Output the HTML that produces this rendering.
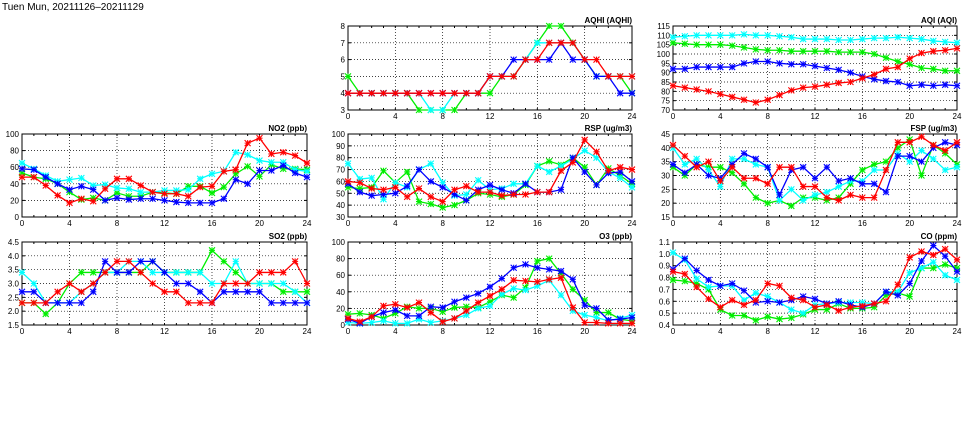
<!DOCTYPE html>
<html><head><meta charset="utf-8"><style>
body{margin:0;background:#fff;width:975px;height:447px;overflow:hidden}
svg{display:block}
text{font-family:"Liberation Sans",sans-serif;font-size:8px;fill:#000}
</style></head><body>
<svg id="chart" width="975" height="447" viewBox="0 0 975 447" xmlns="http://www.w3.org/2000/svg">
<text x="2" y="10" style="font-size:10px">Tuen Mun, 20211126–20211129</text>
</svg>
<script>
const hours=[0,1,2,3,4,5,6,7,8,9,10,11,12,13,14,15,16,17,18,19,20,21,22,23,24];
const xTicks=[0,4,8,12,16,20,24];
const seriesColors=["#00ee00","#00ffff","#0000ff","#ff0000"];
const seriesNames=["green","cyan","blue","red"];

const aqhiTicks=[3,4,5,6,7,8];
const aqhiGreen=[5,4,4,4,4,4,3,3,3,3,4,4,4,5,5,6,7,8,8,7,6,5,5,5,4];
const aqhiCyan=[4,4,4,4,4,4,4,3,3,4,4,4,5,5,5,6,7,7,7,7,6,5,5,5,5];
const aqhiBlue=[4,4,4,4,4,4,4,4,4,4,4,4,5,5,6,6,6,6,7,6,6,5,5,4,4];
const aqhiRed=[4,4,4,4,4,4,4,4,4,4,4,4,5,5,5,6,6,7,7,7,6,6,5,5,5];

const aqiTicks=[70,75,80,85,90,95,100,105,110,115];
const aqiCyan=[109,109.5,110,110,110,110,110.5,110,110,109.5,109,108,108,108,107.5,107.5,108,108.5,108.5,109,108.5,108,107,106.5,106];
const aqiGreen=[106,105.5,105,105,105,104.5,103.5,102.5,102,102,101.5,101.5,101.5,101.5,101,101,101,100,98,96,94.5,92.5,92,91,91];
const aqiBlue=[92,92,93,93,93,93,95,96,96,95,94.5,94.5,93.5,92.5,91.5,90,88,86.5,85.5,85,83,83.5,83,83.5,83];
const aqiRed=[83,82,81,80,78.5,77,75.5,74,75.5,78,80.5,82,82.5,83.5,84.5,85,87,89,92,93,97.5,100.5,101.5,102,103];

const no2Ticks=[0,20,40,60,80,100];
const no2Cyan=[65,58,50,43,45,47,38,39,35,34,30,30,32,32,33,46,52,55,78,75,68,66,66,57,55];
const no2Green=[53,48,46,40,30,21,23,20,29,25,25,30,29,28,37,37,29,36,52,61,49,63,58,58,57];
const no2Blue=[58,57,48,40,33,37,33,20,23,21,22,22,20,18,17,17,17,22,45,40,56,56,62,53,48];
const no2Red=[48,48,38,26,17,22,19,34,46,46,38,30,28,28,25,36,37,55,57,89,95,76,78,74,65];

const rspTicks=[30,40,50,60,70,80,90,100];
const rspCyan=[75,62,63,45,59,55,70,75,59,48,49,61,53,54,58,58,73,68,73,79,86,80,68,63,55];
const rspGreen=[55,54,55,69,59,68,43,41,38,40,44,50,49,47,49,57,73,77,74,80,72,57,71,65,58];
const rspBlue=[58,51,48,49,50,56,70,60,55,49,44,53,57,53,50,58,51,51,53,80,68,57,67,68,60];
const rspRed=[60,59,54,53,55,47,54,47,43,53,56,51,51,48,49,49,51,51,69,76,95,85,69,72,70];

const fspTicks=[15,20,25,30,35,40,45];
const fspCyan=[40,34,36,32,26,36,36,34,33,21,25,21,23,24,26,28,28,32,32,38,35,39,36,32,33];
const fspGreen=[33,30,34,33,33,31,27,22,20,21,19,22,22,21,22,27,32,34,35,40,43,30,41,38,34];
const fspBlue=[34,31,34,30,29,34,38,36,33,23,32,33,29,33,28,29,27,27,24,37,37,35,40,42,41];
const fspRed=[41,37,33,35,28,33,29,29,27,33,33,26,26,22,21,23,22,22,32,42,42,44,41,39,42];

const so2Ticks=[1.5,2.0,2.5,3.0,3.5,4.0,4.5];
const so2Cyan=[3.4,3.0,2.3,2.3,2.3,2.7,3.0,3.4,3.4,3.8,3.8,3.4,3.4,3.4,3.4,3.4,3.0,3.0,3.8,3.0,3.0,3.0,3.0,2.7,2.3];
const so2Green=[2.3,2.3,1.9,2.3,3.0,3.4,3.4,3.4,3.4,3.4,3.4,3.8,3.4,3.4,3.4,3.4,4.2,3.8,3.4,3.0,3.0,3.0,2.7,2.7,2.7];
const so2Blue=[2.7,2.7,2.3,2.3,2.3,2.3,2.7,3.8,3.4,3.4,3.8,3.8,3.4,3.0,3.0,2.7,2.3,2.7,2.7,2.7,2.7,2.3,2.3,2.3,2.3];
const so2Red=[2.3,2.3,2.3,2.7,3.0,2.7,3.0,3.4,3.8,3.8,3.4,3.0,2.7,2.7,2.3,2.3,2.3,3.0,3.0,3.0,3.4,3.4,3.4,3.8,3.0];

const o3Ticks=[0,20,40,60,80,100];
const o3Cyan=[3,2,3,5,2,2,7,3,5,8,12,20,23,37,44,42,47,54,36,17,12,9,5,8,12];
const o3Green=[13,14,12,8,14,22,20,20,16,21,22,21,28,36,33,45,77,80,62,43,30,15,15,7,5];
const o3Blue=[7,2,10,15,18,11,11,22,21,28,33,38,46,56,69,73,69,67,65,55,24,20,6,7,9];
const o3Red=[8,4,10,23,25,21,27,15,4,8,17,27,35,43,54,53,52,55,57,21,3,3,2,2,2];

const coTicks=[0.4,0.5,0.6,0.7,0.8,0.9,1.0,1.1];
const coCyan=[1.01,0.95,0.79,0.72,0.73,0.73,0.61,0.67,0.64,0.59,0.53,0.50,0.57,0.58,0.59,0.59,0.59,0.58,0.68,0.68,0.84,0.88,0.93,0.82,0.78];
const coGreen=[0.78,0.77,0.75,0.70,0.53,0.48,0.48,0.44,0.47,0.45,0.46,0.49,0.53,0.53,0.58,0.54,0.54,0.55,0.65,0.67,0.64,0.88,0.88,0.91,0.88];
const coBlue=[0.87,0.96,0.86,0.78,0.73,0.75,0.69,0.59,0.60,0.59,0.61,0.64,0.62,0.58,0.60,0.57,0.55,0.58,0.68,0.65,0.75,0.94,1.07,0.98,0.85];
const coRed=[0.85,0.83,0.72,0.62,0.55,0.61,0.57,0.61,0.75,0.73,0.63,0.61,0.55,0.57,0.52,0.55,0.56,0.58,0.60,0.74,0.97,1.02,0.99,1.04,0.95];

const NS="http://www.w3.org/2000/svg";
const svg=document.getElementById('chart');
function mk(tag,attrs,parent){const e=document.createElementNS(NS,tag);for(const k in attrs)e.setAttribute(k,attrs[k]);(parent||svg).appendChild(e);return e;}

function panel(key,title,box,ticks,fmt,series){
  const [x0,x1,y0,y1]=box; // left,right,top,bottom
  const ymin=ticks[0],ymax=ticks[ticks.length-1];
  const sx=v=>x0+(v-0)/24*(x1-x0);
  const sy=v=>y1-(v-ymin)/(ymax-ymin)*(y1-y0);
  const g=mk('g',{});
  
  
  // grid
  ticks.forEach(t=>{
    const y=sy(t);
    if(t!==ymin&&t!==ymax){const l=mk('line',{x1:x0,x2:x1,y1:y,y2:y,stroke:'#000','stroke-width':0.7,'stroke-dasharray':'1,2'},g);
      }
    const lb=mk('text',{x:x0-3,y:y+3,'text-anchor':'end'},g);lb.textContent=fmt(t);
    
    mk('line',{x1:x0,x2:x0+3,y1:y,y2:y,stroke:'#000','stroke-width':1},g);
    mk('line',{x1:x1-3,x2:x1,y1:y,y2:y,stroke:'#000','stroke-width':1},g);
  });
  xTicks.forEach(t=>{
    const x=sx(t);
    if(t!==0&&t!==24){const l=mk('line',{x1:x,x2:x,y1:y0,y2:y1,stroke:'#000','stroke-width':0.7,'stroke-dasharray':'1,2'},g);
      }
    const lb=mk('text',{x:x,y:y1+9,'text-anchor':'middle'},g);lb.textContent=t;
    
  });
  hours.forEach(h=>{const x=sx(h);mk('line',{x1:x,x2:x,y1:y1,y2:y1-2,stroke:'#000','stroke-width':1},g);mk('line',{x1:x,x2:x,y1:y0,y2:y0+2,stroke:'#000','stroke-width':1},g);});
  const fr=mk('rect',{x:x0,y:y0,width:x1-x0,height:y1-y0,fill:'none',stroke:'#000','stroke-width':1},g);
  
  const tt=mk('text',{x:x1,y:y0-3,'text-anchor':'end','font-weight':'bold'},g);tt.textContent=title;
  
  series.forEach((vals,i)=>{
    const c=seriesColors[i];
    const sg=mk('g',{},g);
    
    
    const pts=vals.map((v,h)=>sx(hours[h])+','+sy(v)).join(' ');
    mk('polyline',{points:pts,fill:'none',stroke:c,'stroke-width':1.3},sg);
    vals.forEach((v,h)=>{
      const x=sx(hours[h]),y=sy(v),r=3;
      const m=mk('path',{d:`M${x-r},${y}H${x+r}M${x},${y-r}V${y+r}M${x-r},${y-r}L${x+r},${y+r}M${x-r},${y+r}L${x+r},${y-r}`,stroke:c,'stroke-width':1.1,fill:'none'},sg);
      
      
    });
  });
}
const f0=t=>String(t), f1=t=>t.toFixed(1);
panel('aqhi','AQHI (AQHI)',[348,632,26,110],aqhiTicks,f0,[aqhiGreen,aqhiCyan,aqhiBlue,aqhiRed]);
panel('aqi','AQI (AQI)',[673,957,26,110],aqiTicks,f0,[aqiGreen,aqiCyan,aqiBlue,aqiRed]);
panel('no2','NO2 (ppb)',[22,307,134,217],no2Ticks,f0,[no2Green,no2Cyan,no2Blue,no2Red]);
panel('rsp','RSP (ug/m3)',[348,632,134,217],rspTicks,f0,[rspGreen,rspCyan,rspBlue,rspRed]);
panel('fsp','FSP (ug/m3)',[673,957,134,217],fspTicks,f0,[fspGreen,fspCyan,fspBlue,fspRed]);
panel('so2','SO2 (ppb)',[22,307,242,325],so2Ticks,f1,[so2Green,so2Cyan,so2Blue,so2Red]);
panel('o3','O3 (ppb)',[348,632,242,325],o3Ticks,f0,[o3Green,o3Cyan,o3Blue,o3Red]);
panel('co','CO (ppm)',[673,957,242,325],coTicks,f1,[coGreen,coCyan,coBlue,coRed]);
</script>
</body></html>
